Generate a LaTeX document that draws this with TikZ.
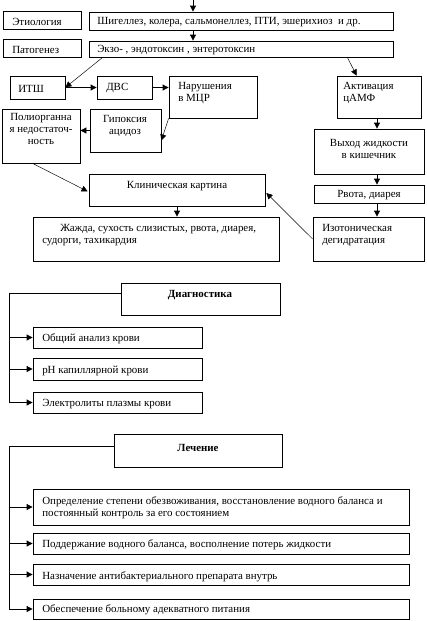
\documentclass[tikz,border=0pt]{standalone}
\usepackage{fontspec}
\setmainfont{Liberation Serif}
\usetikzlibrary{fit,calc,arrows.meta}
\begin{document}
\begin{tikzpicture}[x=0.75pt,y=-0.75pt,
  box/.style={draw,line width=0.6pt,inner sep=0pt},
  txt/.style={inner sep=0pt,font=\fontsize{8.2}{9}\selectfont},
  arr/.style={line width=0.6pt,-{Triangle[length=4.5pt,width=4.5pt]}},
  thinarr/.style={line width=0.35pt,-{Triangle[length=4.5pt,width=4.5pt]}},
  ln/.style={line width=0.6pt}]
\useasboundingbox (0,0) rectangle (426,621);
% boxes
\node[box,fit={(3,11)(81,29)}] (etio) {};
\node[box,fit={(89,12)(393,30)}] (shig) {};
\node[box,fit={(3,39)(81,57)}] (pato) {};
\node[box,fit={(89,41)(393,57)}] (ekzo) {};
\node[box,fit={(10,76)(65,99)}] (itsh) {};
\node[box,fit={(97,76)(152,99)}] (dvs) {};
\node[box,fit={(169,76)(257,118)}] (narush) {};
\node[box,fit={(337,76)(421,118)}] (aktiv) {};
\node[box,fit={(2,109)(80,163)}] (polior) {};
\node[box,fit={(90,109)(161,152)}] (gipox) {};
\node[box,fit={(314,129)(424,174)}] (vykhod) {};
\node[box,fit={(89,174)(265,206)}] (klin) {};
\node[box,fit={(314,185)(424,203)}] (rvota) {};
\node[box,fit={(33,217)(279,261)}] (zhazhda) {};
\node[box,fit={(313,217)(424,261)}] (izot) {};
\node[box,fit={(121,283)(280,315)}] (diag) {};
\node[box,fit={(33,327)(202,348)}] (ob) {};
\node[box,fit={(33,358)(202,380)}] (ph) {};
\node[box,fit={(33,392)(202,413)}] (el) {};
\node[box,fit={(114,434)(282,467)}] (lech) {};
\node[box,fit={(33,489)(409,525)}] (l1) {};
\node[box,fit={(33,533)(409,554)}] (l2) {};
\node[box,fit={(33,564)(409,585)}] (l3) {};
\node[box,fit={(33,599)(409,619)}] (l4) {};
% texts
\node[txt,anchor=west] (tetio) at (12,21.5) {Этиология};
\node[txt,anchor=west] (tshig) at (97,22.5) {Шигеллез, колера, сальмонеллез, ПТИ, эшерихиоз\ \ и др.};
\node[txt,anchor=west] (tpato) at (12,50) {Патогенез};
\node[txt,anchor=west] (tekzo) at (97,50.5) {Экзо- , эндотоксин , энтеротоксин};
\node[txt,anchor=west] (titsh) at (18,88.5) {ИТШ};
\node[txt,anchor=west] (tdvs) at (106,88.5) {ДВС};
\node[txt,anchor=north west,align=left] (tnarush) at (178,82.5) {Нарушения\\в МЦР};
\node[txt,anchor=north west,align=left] (taktiv) at (343,82.5) {Активация\\цАМФ};
\node[txt,anchor=north,align=center] (tgipox) at (125,115.5) {Гипоксия\\ацидоз};
\node[txt,anchor=north,align=center] (tpolior) at (41,113.5) {Полиорганна\\я недостаточ-\\ность};
\node[txt] (tklin) at (177,186.5) {Клиническая картина};
\node[txt,anchor=north west,align=left] (tzhazhda) at (42,224.5) {\hspace*{13.5pt}Жажда, сухость слизистых, рвота, диарея,\\судорги, тахикардия};
\node[txt,anchor=north,align=center] (tvykhod) at (369,139.5) {Выход жидкости\\в кишечник};
\node[txt] (trvota) at (369,195.5) {Рвота, диарея};
\node[txt,anchor=north west,align=left] (tizot) at (322,224.5) {Изотоническая\\дегидратация};
\node[txt,font=\fontsize{8.2}{9}\selectfont\bfseries] (tdiag) at (200,295.5) {Диагностика};
\node[txt,anchor=west] (tob) at (42,338.5) {Общий анализ крови};
\node[txt,anchor=west] (tph) at (42,370.5) {pH капиллярной крови};
\node[txt,anchor=west] (tel) at (42,404.5) {Электролиты плазмы крови};
\node[txt,font=\fontsize{8.2}{9}\selectfont\bfseries] (tlech) at (198,447.5) {Лечение};
\node[txt,anchor=north west,align=left] (tl1) at (42,496.5) {Определение степени обезвоживания, восстановление водного баланса и\\постоянный контроль за его состоянием};
\node[txt,anchor=west] (tl2) at (42,544.5) {Поддержание водного баланса, восполнение потерь жидкости};
\node[txt,anchor=west] (tl3) at (42,576.5) {Назначение антибактериального препарата внутрь};
\node[txt,anchor=west] (tl4) at (42,610) {Обеспечение больному адекватного питания};
% connectors
\coordinate (start) at (193,0);
\coordinate (colx) at (377,0);
\draw[arr] (start) -- (shig.north -| start);
\draw[arr] (shig.south -| start) -- (ekzo.north -| start);
\draw[thinarr] ($(ekzo.south west)+(14,0)$) -- (itsh.east);
\draw[thinarr] ($(ekzo.south east)+(-46,0)$) -- ($(aktiv.north west)+(20,0)$);
\draw[arr] (itsh.east) -- (dvs.west);
\draw[arr] (dvs.east) -- (narush.west |- dvs.east);
\draw[thinarr] (narush.south west) -- ($(gipox.south east)+(0,-12)$);
\draw[arr] (gipox.west) -- (polior.east |- gipox.west);
\draw[thinarr] ($(polior.south west)+(31,0)$) -- ($(klin.south west)+(-1,-15)$);
\draw[thinarr] (izot.west) -- ($(klin.east)+(1,3)$);
\draw[arr] (klin.south) -- (zhazhda.north -| klin.south);
\draw[arr] (aktiv.south -| colx) -- (vykhod.north -| colx);
\draw[arr] (vykhod.south -| colx) -- (rvota.north -| colx);
\draw[arr] (rvota.south -| colx) -- (izot.north -| colx);
% diagnostics
\coordinate (dline) at (9,293);
\draw[ln] (diag.west |- dline) -- (dline) -- (dline |- el.west);
\draw[arr] (dline |- ob.west) -- (ob.west);
\draw[arr] (dline |- ph.west) -- (ph.west);
\draw[arr] (dline |- el.west) -- (el.west);
% treatment
\coordinate (tline) at (9,446);
\draw[ln] (lech.west |- tline) -- (tline) -- (tline |- l4.west);
\draw[arr] (tline |- l1.west) -- (l1.west);
\draw[arr] (tline |- l2.west) -- (l2.west);
\draw[arr] (tline |- l3.west) -- (l3.west);
\draw[arr] (tline |- l4.west) -- (l4.west);
\end{tikzpicture}
\end{document}
